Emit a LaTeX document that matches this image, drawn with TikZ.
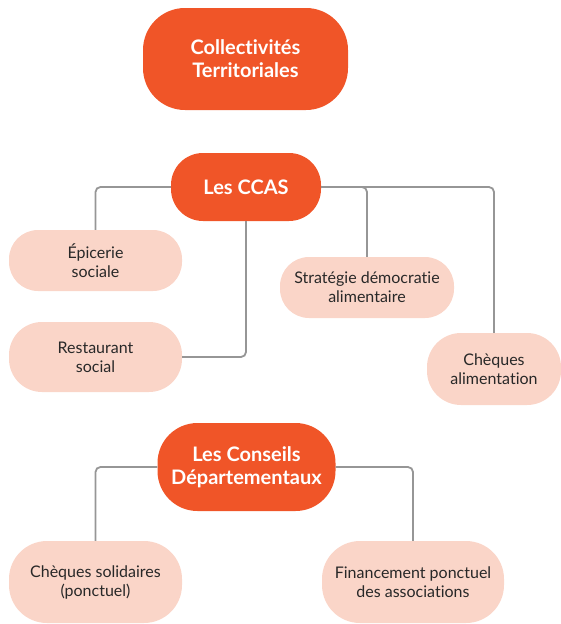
\documentclass[tikz,border=0pt]{standalone}
\usepackage{fontspec}
\setmainfont{Lato}[Ligatures=NoCommon]
\definecolor{orangeB}{RGB}{240,85,40}
\definecolor{pinkB}{RGB}{250,213,200}
\definecolor{lineG}{RGB}{150,150,150}
\definecolor{txtG}{RGB}{40,40,40}
\tikzset{
  mainbox/.style={fill=orangeB, draw=none, inner sep=0pt, align=center, text=white,
    font=\bfseries\fontsize{20}{23}\selectfont},
  subbox/.style={fill=pinkB, draw=none, inner sep=0pt, align=center, text=txtG,
    font=\fontsize{16}{19}\selectfont},
  conn/.style={draw=lineG, line width=1.8pt, rounded corners=5pt}
}
\begin{document}
\begin{tikzpicture}[x=1pt,y=-1pt]
\useasboundingbox (0,0) rectangle (561,624);
\node[mainbox, minimum width=205pt, minimum height=102pt, rounded corners=42pt] (coll) at (245.5,59) {Collectivités\\Territoriales};
\node[mainbox, minimum width=150pt, minimum height=68pt, rounded corners=32pt] (ccas) at (246,187) {Les CCAS};
\node[subbox, minimum width=173pt, minimum height=61pt, rounded corners=29pt] (epi) at (95.5,260.5) {Épicerie\\sociale};
\node[subbox, minimum width=173pt, minimum height=70pt, rounded corners=33pt] (resto) at (95.5,357) {Restaurant\\social};
\node[subbox, minimum width=174pt, minimum height=61pt, rounded corners=29pt] (strat) at (367,287.5) {Stratégie démocratie\\alimentaire};
\node[subbox, minimum width=134pt, minimum height=72pt, rounded corners=34pt] (cheq) at (494,369) {Chèques\\alimentation};
\node[mainbox, minimum width=178pt, minimum height=88pt, rounded corners=40pt] (cons) at (246.5,467) {Les Conseils\\Départementaux};
\node[subbox, minimum width=173pt, minimum height=82pt, rounded corners=38pt] (sol) at (95.5,582) {Chèques solidaires\\(ponctuel)};
\node[subbox, minimum width=182pt, minimum height=82pt, rounded corners=38pt] (fin) at (413,582) {Financement ponctuel\\des associations};
\draw[conn] (ccas.west) -| (epi.north);
\draw[conn] (ccas.east) -| (strat.north);
\draw[conn] (ccas.east) -| (cheq.north);
\draw[conn] (ccas.south) |- (resto.east);
\draw[conn] (cons.west) -| (sol.north);
\draw[conn] (cons.east) -| (fin.north);
\end{tikzpicture}
\end{document}
